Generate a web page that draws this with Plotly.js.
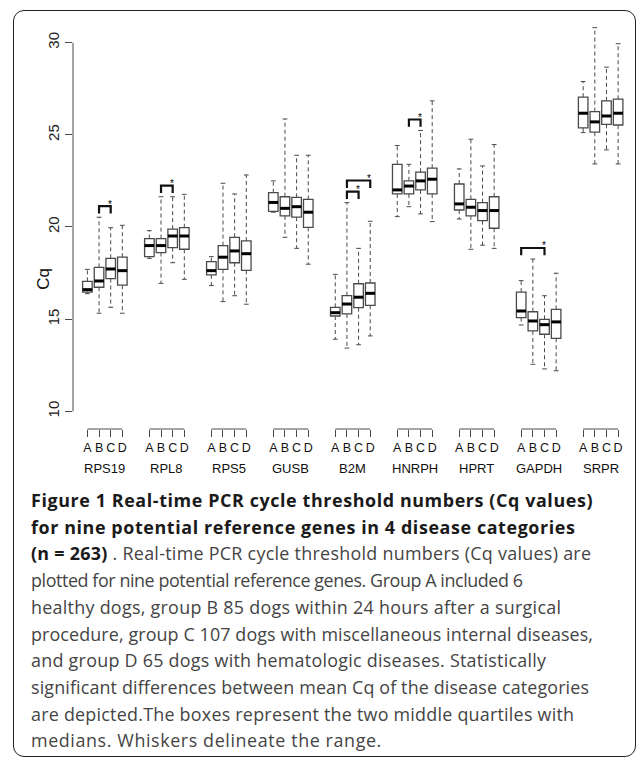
<!DOCTYPE html>
<html><head><meta charset="utf-8">
<script src="https://cdn.plot.ly/plotly-3.0.1.min.js"></script>
<style>
html,body{margin:0;padding:0;background:#fff;width:636px;height:757px;overflow:hidden;}
#frame{position:absolute;left:13px;top:10px;width:623px;height:747px;box-sizing:border-box;border:1.6px solid #222;border-radius:11px;}
#chart{position:absolute;left:0;top:0;width:636px;height:490px;}
#caption{position:absolute;left:31px;top:487px;width:600px;font-family:"Open Sans",Lato,sans-serif;font-size:17.9px;line-height:26.7px;color:#444;white-space:nowrap;}
#caption div span{display:inline-block;}
#caption b{color:#1a1a1a;font-weight:700}
</style></head>
<body>
<div id="frame"></div>
<div id="chart"></div>
<div id="caption"></div>
<script>
// ---- data ----
const genes = ['RPS19','RPL8','RPS5','GUSB','B2M','HNRPH','HPRT','GAPDH','SRPR'];
const groups = ['A','B','C','D'];
// per gene: values for groups A, B, C, D
const cqMin = [
  [16.38,15.32,15.64,15.32],[18.30,16.94,18.06,17.16],[16.82,15.95,16.27,15.81],
  [20.80,19.44,18.84,17.98],[13.91,13.43,13.61,14.09],[20.56,21.10,20.71,20.29],
  [20.43,18.79,19.01,18.84],[14.68,12.55,12.30,12.20],[25.12,23.42,24.18,23.42]];
const cqQ1 = [
  [16.47,16.73,17.20,16.84],[18.39,18.61,18.88,18.79],[17.40,17.70,18.06,17.65],
  [20.85,20.60,20.53,19.98],[15.17,15.28,15.62,15.75],[21.79,21.79,22.01,21.79],
  [20.92,20.60,20.34,19.93],[15.08,14.36,14.18,13.96],[25.37,25.14,25.57,25.53]];
const cqMedian = [
  [16.60,17.07,17.72,17.63],[18.99,18.99,19.51,19.51],[17.63,18.36,18.70,18.55],
  [21.33,21.01,21.10,20.80],[15.35,15.82,16.19,16.40],[22.01,22.22,22.50,22.59],
  [21.25,21.07,20.89,20.89],[15.44,14.90,14.70,14.85],[26.17,25.70,26.02,26.17]];
const cqQ3 = [
  [17.05,17.81,18.30,18.36],[19.37,19.37,19.88,19.96],[18.12,18.99,19.44,19.24],
  [21.86,21.64,21.61,21.50],[15.64,16.27,16.92,16.96],[23.40,22.50,22.97,23.19],
  [22.33,21.50,21.32,21.64],[16.47,15.40,14.99,15.53],[27.04,26.26,26.84,26.93]];
const cqMax = [
  [17.70,20.53,19.96,20.09],[19.80,21.64,21.64,21.77],[18.39,22.37,21.79,22.82],
  [22.50,25.86,23.89,23.89],[17.43,21.32,18.84,20.31],[24.42,23.40,25.23,26.84],
  [23.15,24.76,23.31,24.47],[17.09,18.26,16.27,17.49],[27.89,30.81,28.67,29.94]];
// significant differences (gene, from group, to group)
const sigGene = ['RPS19','RPL8','B2M','B2M','HNRPH','GAPDH'];
const sigFrom = ['B','B','B','B','B','A'];
const sigTo   = ['C','C','C','D','C','C'];
const yTicks = [10,15,20,25,30];
const captionLines = [
  '<b>Figure 1 Real-time PCR cycle threshold numbers (Cq values)</b>',
  '<b>for nine potential reference genes in 4 disease categories</b>',
  '<b>(n = 263)</b> . Real-time PCR cycle threshold numbers (Cq values) are',
  'plotted for nine potential reference genes. Group A included 6',
  'healthy dogs, group B 85 dogs within 24 hours after a surgical',
  'procedure, group C 107 dogs with miscellaneous internal diseases,',
  'and group D 65 dogs with hematologic diseases. Statistically',
  'significant differences between mean Cq of the disease categories',
  'are depicted.The boxes represent the two middle quartiles with',
  'medians. Whiskers delineate the range.'
];
// measured line lengths of the caption in the original (px), used for fitting the font
const captionWidths = [588, 561, 560, 492, 530, 562, 515, 558, 543, 408];

// ---- layout helpers ----
const groupStep = 5.32, boxW = 0.82;
const pos = (g, i) => g * groupStep + i;
const FONT = 'Liberation Sans, Arial, sans-serif';
const GREY = '#4a4a4a';

const bx = [], q1 = [], med = [], q3 = [];
const wx = [], wy = [], cx = [], cy = [], mx = [], my = [];
genes.forEach((gName, g) => {
  groups.forEach((lab, i) => {
    const p = pos(g, i);
    bx.push(p); q1.push(cqQ1[g][i]); med.push(cqMedian[g][i]); q3.push(cqQ3[g][i]);
    wx.push(p, p, null, p, p, null);
    wy.push(cqQ3[g][i], cqMax[g][i], null, cqQ1[g][i], cqMin[g][i], null);
    cx.push(p - boxW/4, p + boxW/4, null, p - boxW/4, p + boxW/4, null);
    cy.push(cqMax[g][i], cqMax[g][i], null, cqMin[g][i], cqMin[g][i], null);
    mx.push(p - boxW/2, p + boxW/2, null);
    my.push(cqMedian[g][i], cqMedian[g][i], null);
  });
});

const traces = [
  {type:'scatter', mode:'lines', x:wx, y:wy, line:{color:GREY, width:1, dash:'4px,3px'}, hoverinfo:'skip', showlegend:false},
  {type:'scatter', mode:'lines', x:cx, y:cy, line:{color:GREY, width:1}, hoverinfo:'skip', showlegend:false},
  {type:'box', x:bx, q1:q1, median:med, q3:q3, lowerfence:q1, upperfence:q3, width:boxW,
   whiskerwidth:0, boxpoints:false, line:{color:GREY, width:1.3}, fillcolor:'rgba(255,255,255,0)', hoverinfo:'skip', showlegend:false},
  {type:'scatter', mode:'lines', x:mx, y:my, line:{color:'#000', width:3}, hoverinfo:'skip', showlegend:false}
];

// significance brackets
const brx = [], bry = [], annotations = [];
const stackCount = {};
sigGene.forEach((gName, k) => {
  const g = genes.indexOf(gName);
  const i0 = groups.indexOf(sigFrom[k]), i1 = groups.indexOf(sigTo[k]);
  let top = -Infinity;
  for (let i = i0; i <= i1; i++) top = Math.max(top, cqMax[g][i]);
  const s = stackCount[gName] || 0; stackCount[gName] = s + 1;
  const base = top + 0.2 + 0.6 * s, lvl = base + 0.4;
  brx.push(pos(g, i0), pos(g, i0), pos(g, i1), pos(g, i1), null);
  bry.push(base, lvl, lvl, base, null);
  annotations.push({x: pos(g, i1), y: lvl, xref:'x', yref:'y', text:'*', showarrow:false,
    xanchor:'center', yanchor:'middle', xshift:-1, yshift:2, font:{family:FONT, size:10, color:'#000'}});
});
traces.push({type:'scatter', mode:'lines', x:brx, y:bry, line:{color:'#111', width:2.2}, hoverinfo:'skip', showlegend:false});

// x axis: group letters as ticks, gene names below, group lines
const shapes = [];
genes.forEach((gName, g) => {
  shapes.push({type:'line', xref:'x', yref:'paper', x0:pos(g,0), x1:pos(g,3), y0:0, y1:0, line:{color:GREY, width:1}});
  annotations.push({x:(pos(g,0)+pos(g,3))/2, y:0, xref:'x', yref:'paper', text:gName, showarrow:false,
    xanchor:'center', yanchor:'middle', yshift:-39, font:{family:FONT, size:13, color:'#111'}});
});
shapes.push({type:'line', xref:'paper', yref:'y', x0:0, x1:0, y0:yTicks[0], y1:yTicks[yTicks.length-1], line:{color:GREY, width:1}});
annotations.push({x:-0.0544, y:17.17, xref:'paper', yref:'y', text:'Cq', textangle:-90, showarrow:false,
  xanchor:'center', yanchor:'middle', font:{family:FONT, size:17, color:'#111'}});

const layout = {
  width:636, height:490,
  margin:{l:73, r:6, t:17, b:61},
  paper_bgcolor:'rgba(0,0,0,0)', plot_bgcolor:'rgba(0,0,0,0)',
  showlegend:false,
  xaxis:{range:[-1.236, 46.58], tickvals:bx, ticktext:bx.map((_, j) => groups[j % 4]),
    ticks:'outside', ticklen:7, tickcolor:GREY, tickwidth:1, showline:false, showgrid:false, zeroline:false,
    tickfont:{family:FONT, size:12.5, color:'#111'}},
  yaxis:{range:[9.04, 31.39], tickvals:yTicks, ticktext:yTicks.map(String), tickangle:-90,
    ticks:'outside', ticklen:7, tickcolor:GREY, tickwidth:1, showline:false, showgrid:false, zeroline:false,
    tickfont:{family:FONT, size:15, color:'#222'}},
  shapes:shapes, annotations:annotations
};
Plotly.newPlot('chart', traces, layout, {displayModeBar:false, staticPlot:true});

// caption, each line fitted to its measured length via a small letter spacing
const cap = document.getElementById('caption');
cap.innerHTML = captionLines.map(l => '<div><span>' + l + '</span></div>').join('');
Array.from(cap.querySelectorAll('div > span')).forEach((sp, k) => {
  const natural = sp.getBoundingClientRect().width;
  const n = sp.textContent.length;
  let ls = (captionWidths[k] - natural) / Math.max(1, n - 1);
  ls = Math.max(-0.6, Math.min(0.6, ls));
  sp.style.letterSpacing = ls.toFixed(3) + 'px';
});
</script>
</body></html>
